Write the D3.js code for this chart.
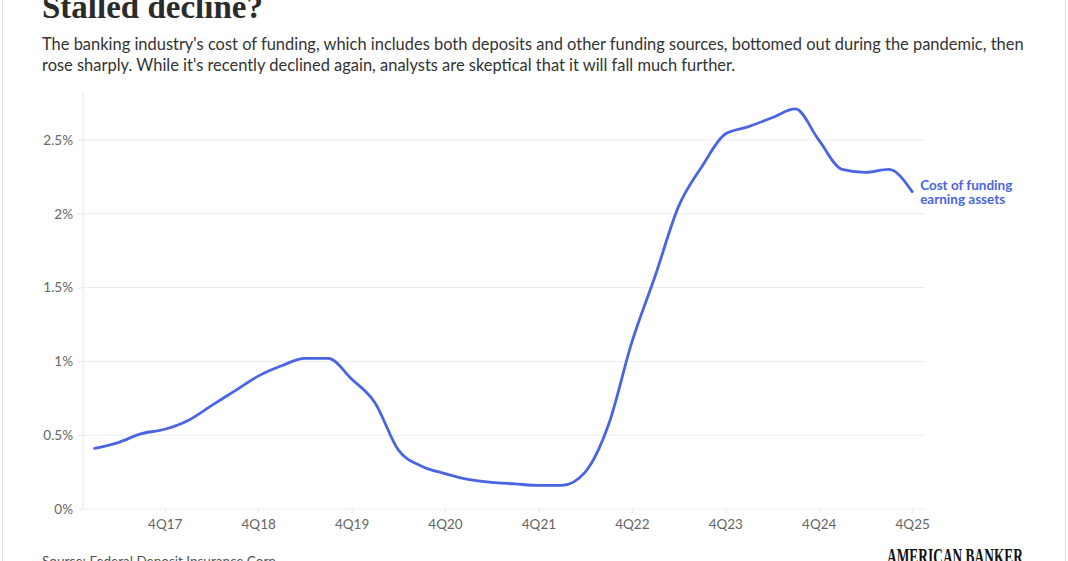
<!DOCTYPE html>
<html>
<head>
<meta charset="utf-8">
<script src="https://cdn.jsdelivr.net/npm/d3@7"></script>
<style>
  body { margin: 0; background: #fff; font-family: Lato, "Open Sans", sans-serif; }
  svg { display: block; }
</style>
</head>
<body>
<svg id="chart"></svg>
<script>
// Cost of funding earning assets, quarterly 1Q17 .. 4Q25 (percent)
const quarters = [
  "1Q17","2Q17","3Q17","4Q17","1Q18","2Q18","3Q18","4Q18","1Q19","2Q19","3Q19","4Q19",
  "1Q20","2Q20","3Q20","4Q20","1Q21","2Q21","3Q21","4Q21","1Q22","2Q22","3Q22","4Q22",
  "1Q23","2Q23","3Q23","4Q23","1Q24","2Q24","3Q24","4Q24","1Q25","2Q25","3Q25","4Q25"
];
const costOfFunding = [
  0.41, 0.45, 0.51, 0.54, 0.60, 0.70, 0.80, 0.90, 0.97, 1.02, 1.02, 0.88,
  0.72, 0.40, 0.29, 0.24, 0.20, 0.18, 0.17, 0.16, 0.16, 0.25, 0.57, 1.13,
  1.58, 2.05, 2.32, 2.54, 2.59, 2.65, 2.71, 2.50, 2.30, 2.28, 2.30, 2.15
];
const xTickLabels = ["4Q17","4Q18","4Q19","4Q20","4Q21","4Q22","4Q23","4Q24","4Q25"];
const yTicks = [0, 0.5, 1, 1.5, 2, 2.5];

const subtitleLines = [
  "The banking industry's cost of funding, which includes both deposits and other funding sources, bottomed out during the pandemic, then",
  "rose sharply. While it's recently declined again, analysts are skeptical that it will fall much further."
];

const width = 1068, height = 561;
const lineColor = "#4a65e3";

const svg = d3.select("#chart").attr("width", width).attr("height", height);

// outer frame
svg.append("rect")
  .attr("x", 2.5).attr("y", -5)
  .attr("width", width - 5).attr("height", height + 10)
  .attr("fill", "none").attr("stroke", "#e2e2e2");

// headline and description
svg.append("text")
  .attr("x", 42).attr("y", 18)
  .attr("font-family", "'Liberation Serif', serif")
  .attr("font-weight", 700)
  .attr("font-size", 33)
  .attr("fill", "#2b2b2b")
  .text("Stalled decline?");

svg.append("g").selectAll("text")
  .data(subtitleLines)
  .join("text")
  .attr("x", 42)
  .attr("y", (d, i) => 50 + i * 21)
  .attr("font-size", 16.45)
  .attr("fill", "#333")
  .text(d => d);

// scales
const plot = { left: 83, right: 925, top: 103, bottom: 509 };

const x = d3.scaleLinear()
  .domain([-0.5, 35.55])
  .range([plot.left, plot.right]);

const y = d3.scaleLinear()
  .domain([0, 2.75])
  .range([plot.bottom, plot.top]);

// gridlines
svg.append("g")
  .selectAll("line")
  .data(yTicks)
  .join("line")
  .attr("x1", plot.left).attr("x2", plot.right)
  .attr("y1", d => y(d)).attr("y2", d => y(d))
  .attr("stroke", "#ececec");

// y axis
const yAxis = svg.append("g")
  .attr("transform", `translate(${plot.left},0)`)
  .call(d3.axisLeft(y).tickValues(yTicks).tickSize(5).tickPadding(5)
    .tickFormat(d => d + "%"));
yAxis.select(".domain").attr("stroke", "#e6e6e6").attr("d", `M0,${plot.bottom}V${plot.top - 10}`);
yAxis.selectAll(".tick line").attr("stroke", "#e6e6e6");
yAxis.selectAll(".tick text")
  .attr("font-family", "Lato, sans-serif")
  .attr("font-size", 13.5).attr("fill", "#666");

// x axis
const xAxis = svg.append("g")
  .attr("transform", `translate(0,${plot.bottom})`)
  .call(d3.axisBottom(x)
    .tickValues(xTickLabels.map(q => quarters.indexOf(q)))
    .tickFormat(i => quarters[i])
    .tickSize(4).tickPadding(6));
xAxis.select(".domain").remove();
xAxis.selectAll(".tick line").attr("stroke", "#e6e6e6");
xAxis.selectAll(".tick text")
  .attr("font-family", "Lato, sans-serif")
  .attr("font-size", 13.5).attr("fill", "#666");

// the series
const line = d3.line()
  .x((d, i) => x(i))
  .y(d => y(d))
  .curve(d3.curveMonotoneX);

svg.append("path")
  .datum(costOfFunding)
  .attr("d", line)
  .attr("fill", "none")
  .attr("stroke", lineColor)
  .attr("stroke-width", 2.8)
  .attr("stroke-linejoin", "round")
  .attr("stroke-linecap", "round");

// series label next to last point
const lastIdx = costOfFunding.length - 1;
const label = svg.append("text")
  .attr("x", x(lastIdx) + 8)
  .attr("y", y(costOfFunding[lastIdx]) - 2)
  .attr("font-size", 13.5)
  .attr("font-weight", 700)
  .attr("fill", lineColor);
label.append("tspan").attr("x", x(lastIdx) + 8).text("Cost of funding");
label.append("tspan").attr("x", x(lastIdx) + 8).attr("dy", 14).text("earning assets");

// footer
svg.append("text")
  .attr("x", 42).attr("y", 566)
  .attr("font-size", 13.5)
  .attr("fill", "#555")
  .text("Source: Federal Deposit Insurance Corp.");

svg.append("text")
  .attr("x", 887).attr("y", 564)
  .attr("font-family", "'Liberation Serif', serif")
  .attr("font-weight", 700)
  .attr("font-size", 23)
  .attr("textLength", 136)
  .attr("lengthAdjust", "spacingAndGlyphs")
  .attr("fill", "#111")
  .text("AMERICAN BANKER");
</script>
</body>
</html>
